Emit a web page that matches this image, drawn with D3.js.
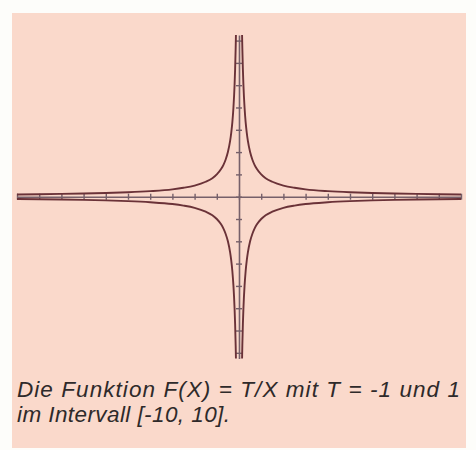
<!DOCTYPE html>
<html>
<head>
<meta charset="utf-8">
<script src="https://cdn.jsdelivr.net/npm/d3@7"></script>
<style>
  html, body { margin: 0; padding: 0; background: #fdfdfa; }
  svg { display: block; }
</style>
</head>
<body>
<script>
// Sample points of F(X) = T/X for X > 0 (value for T = 1)
const xVals = [0.138, 0.15, 0.175, 0.2, 0.25, 0.3, 0.35, 0.4, 0.5, 0.6, 0.7, 0.8,
               1, 1.2, 1.5, 2, 2.5, 3, 4, 5, 6, 7, 8, 9, 10];
const yVals = [7.25, 6.67, 5.71, 5, 4, 3.33, 2.86, 2.5, 2, 1.67, 1.43, 1.25,
               1, 0.83, 0.67, 0.5, 0.4, 0.33, 0.25, 0.2, 0.167, 0.143, 0.125, 0.111, 0.1];
const tValues = [-1, 1];
const xTicks = d3.range(-10, 11);
const yTicks = d3.range(-7, 8);
const captionLines = ["Die Funktion F(X) = T/X mit T = -1 und 1", "im Intervall [-10, 10]."];
const captionWidths = [443, 213];

const W = 476, H = 450;
const svg = d3.select("body").append("svg").attr("width", W).attr("height", H);

// panel
svg.append("rect").attr("x", 12).attr("y", 13).attr("width", 454).attr("height", 435)
  .attr("fill", "#fad9cb");

const x = d3.scaleLinear().domain([-10, 10]).range([17, 461]);
const y = d3.scaleLinear().domain([-7.25, 7.25]).range([196.7 + 161.7, 196.7 - 161.7]);

const axisColor = "#76606a";

// x axis, ticks on both sides
const gx = svg.append("g").attr("transform", `translate(0,${y(0)})`);
gx.call(d3.axisBottom(x).tickValues(xTicks).tickSizeInner(3).tickSizeOuter(0).tickFormat(""));
gx.call(g => g.selectAll(".tick line").attr("y1", -3));
const gy = svg.append("g").attr("transform", `translate(${x(0)},0)`);
gy.call(d3.axisLeft(y).tickValues(yTicks).tickSizeInner(3).tickSizeOuter(0).tickFormat(""));
gy.call(g => g.selectAll(".tick line").attr("x1", 3));
[gx, gy].forEach(g => {
  g.select(".domain").attr("stroke", axisColor).attr("stroke-width", 1.6);
  g.selectAll(".tick line").attr("stroke", axisColor).attr("stroke-width", 1.4);
});

// curves: each T gives a branch for X > 0 and one for X < 0
const line = d3.line().x(d => x(d[0])).y(d => y(d[1])).curve(d3.curveMonotoneX);
tValues.forEach(t => {
  const right = xVals.map((v, i) => [v, t * yVals[i]]);
  const left = xVals.map((v, i) => [-v, -t * yVals[i]]).reverse();
  [left, right].forEach(branch => {
    svg.append("path").attr("d", line(branch))
      .attr("fill", "none").attr("stroke", "#6a3238").attr("stroke-width", 1.9)
      .attr("stroke-linejoin", "round");
  });
});

// caption
const cap = svg.append("text")
  .attr("font-family", "'Liberation Sans', Arial, sans-serif")
  .attr("font-style", "italic").attr("font-size", 22.5).attr("fill", "#2e2a2a");
captionLines.forEach((s, i) => {
  cap.append("tspan").attr("x", 17).attr("y", 397 + i * 24.5)
    .attr("textLength", captionWidths[i]).attr("lengthAdjust", "spacing").text(s);
});
</script>
</body>
</html>
